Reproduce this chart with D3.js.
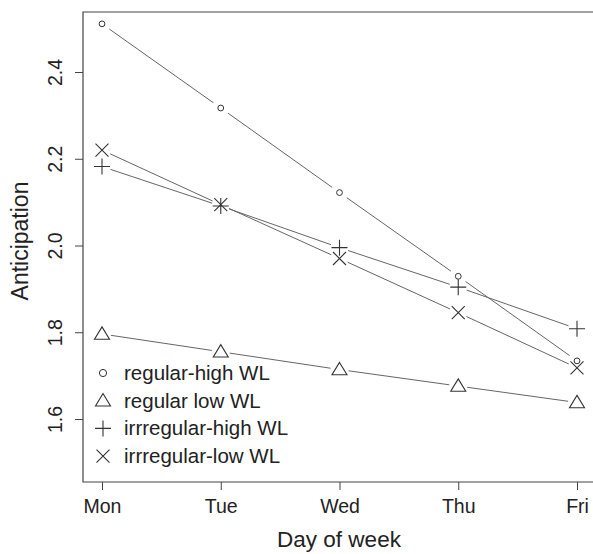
<!DOCTYPE html>
<html>
<head>
<meta charset="utf-8">
<script src="https://cdn.jsdelivr.net/npm/d3@7"></script>
<style>
  body { margin: 0; background: #fff; }
  svg { font-family: "Liberation Sans", Arial, sans-serif; }
</style>
</head>
<body>
<div id="chart"></div>
<script>
// --- Data ---
const days = ["Mon", "Tue", "Wed", "Thu", "Fri"];
const regularHigh = [2.511, 2.317, 2.122, 1.929, 1.734];
const regularLow = [1.796, 1.755, 1.714, 1.676, 1.638];
const irregularHigh = [2.182, 2.091, 1.995, 1.904, 1.808];
const irregularLow = [2.220, 2.094, 1.970, 1.845, 1.718];
const yTicks = [1.6, 1.8, 2.0, 2.2, 2.4];

const seriesNames = ["regular-high WL", "regular low WL", "irrregular-high WL", "irrregular-low WL"];
const seriesShapes = ["circle", "triangle", "plus", "cross"];
const series = [regularHigh, regularLow, irregularHigh, irregularLow].map((vals, i) => ({
    name: seriesNames[i],
    shape: seriesShapes[i],
    values: vals.map((v, j) => ({ day: days[j], value: v }))
}));

// --- Rendering ---
const width = 593, height = 554;
const frame = { left: 83, top: 12, bottom: 482 };

const svg = d3.select("#chart").append("svg")
    .attr("width", width)
    .attr("height", height);

const x = d3.scalePoint()
    .domain(days)
    .range([102, 577]);

const y = d3.scaleLinear()
    .domain([1.6, 2.4])
    .range([419, 72]);

const ink = "#333";
const lineCol = "#666";

// draw a symbol centred at 0,0
function drawSymbol(g, shape, big) {
    if (shape === "circle") {
        g.append("circle").attr("r", big ? 3.6 : 2.9)
            .attr("fill", "none").attr("stroke", ink).attr("stroke-width", 1);
    } else if (shape === "triangle") {
        const s = 7.5;
        g.append("path")
            .attr("d", `M0,${-s * 0.95}L${s},${s * 0.7}L${-s},${s * 0.7}Z`)
            .attr("fill", "none").attr("stroke", ink).attr("stroke-width", 1.1);
    } else if (shape === "plus") {
        const s = 8;
        g.append("path")
            .attr("d", `M${-s},0L${s},0M0,${-s}L0,${s}`)
            .attr("stroke", ink).attr("stroke-width", 1.1);
    } else {
        const s = 6.5;
        g.append("path")
            .attr("d", `M${-s},${-s}L${s},${s}M${-s},${s}L${s},${-s}`)
            .attr("stroke", ink).attr("stroke-width", 1.1);
    }
}

// Plot box (right edge runs off the picture)
svg.append("path")
    .attr("d", `M${width + 5},${frame.top}H${frame.left}V${frame.bottom}H${width + 5}`)
    .attr("fill", "none")
    .attr("stroke", "#444")
    .attr("stroke-width", 1.2);

// Lines with gaps around points (R type = "b")
const gap = 9;
series.forEach(s => {
    const pts = s.values.map(d => [x(d.day), y(d.value)]);
    for (let i = 0; i < pts.length - 1; i++) {
        const [x0, y0] = pts[i], [x1, y1] = pts[i + 1];
        const len = Math.hypot(x1 - x0, y1 - y0);
        const ux = (x1 - x0) / len, uy = (y1 - y0) / len;
        svg.append("line")
            .attr("x1", x0 + ux * gap).attr("y1", y0 + uy * gap)
            .attr("x2", x1 - ux * gap).attr("y2", y1 - uy * gap)
            .attr("stroke", lineCol)
            .attr("stroke-width", 1);
    }
    s.values.forEach(d => {
        const g = svg.append("g").attr("transform", `translate(${x(d.day)},${y(d.value)})`);
        drawSymbol(g, s.shape, false);
    });
});

// Y axis
const yAxis = svg.append("g")
    .attr("transform", `translate(${frame.left},0)`)
    .call(d3.axisLeft(y).tickValues(yTicks).tickFormat(d3.format(".1f")).tickSize(8).tickSizeOuter(0));
yAxis.select(".domain").remove();
yAxis.selectAll("line").attr("stroke", "#444");
yAxis.selectAll("text")
    .attr("x", 0).attr("dy", 0)
    .attr("transform", "translate(-21,0) rotate(-90)")
    .attr("text-anchor", "middle")
    .style("font-size", "19.5px")
    .attr("fill", "#222");

// X axis
const xAxis = svg.append("g")
    .attr("transform", `translate(0,${frame.bottom})`)
    .call(d3.axisBottom(x).tickSize(8).tickSizeOuter(0));
xAxis.select(".domain").remove();
xAxis.selectAll("line").attr("stroke", "#444");
xAxis.selectAll("text")
    .attr("y", 31).attr("dy", 0)
    .style("font-size", "19.5px")
    .attr("fill", "#222");

// Axis titles
svg.append("text")
    .attr("x", 339).attr("y", 547)
    .attr("text-anchor", "middle")
    .style("font-size", "22.5px")
    .attr("fill", "#222")
    .text("Day of week");

svg.append("text")
    .attr("transform", "translate(28,241) rotate(-90)")
    .attr("text-anchor", "middle")
    .style("font-size", "23px")
    .attr("fill", "#222")
    .text("Anticipation");

// Legend
const legend = svg.append("g").attr("class", "legend");
series.forEach((s, i) => {
    const ly = 373 + i * 27.7;
    const g = legend.append("g").attr("transform", `translate(103,${ly})`);
    drawSymbol(g, s.shape, true);
    legend.append("text")
        .attr("x", 124).attr("y", ly + 7)
        .style("font-size", "20.5px")
        .attr("fill", "#222")
        .text(s.name);
});
</script>
</body>
</html>
